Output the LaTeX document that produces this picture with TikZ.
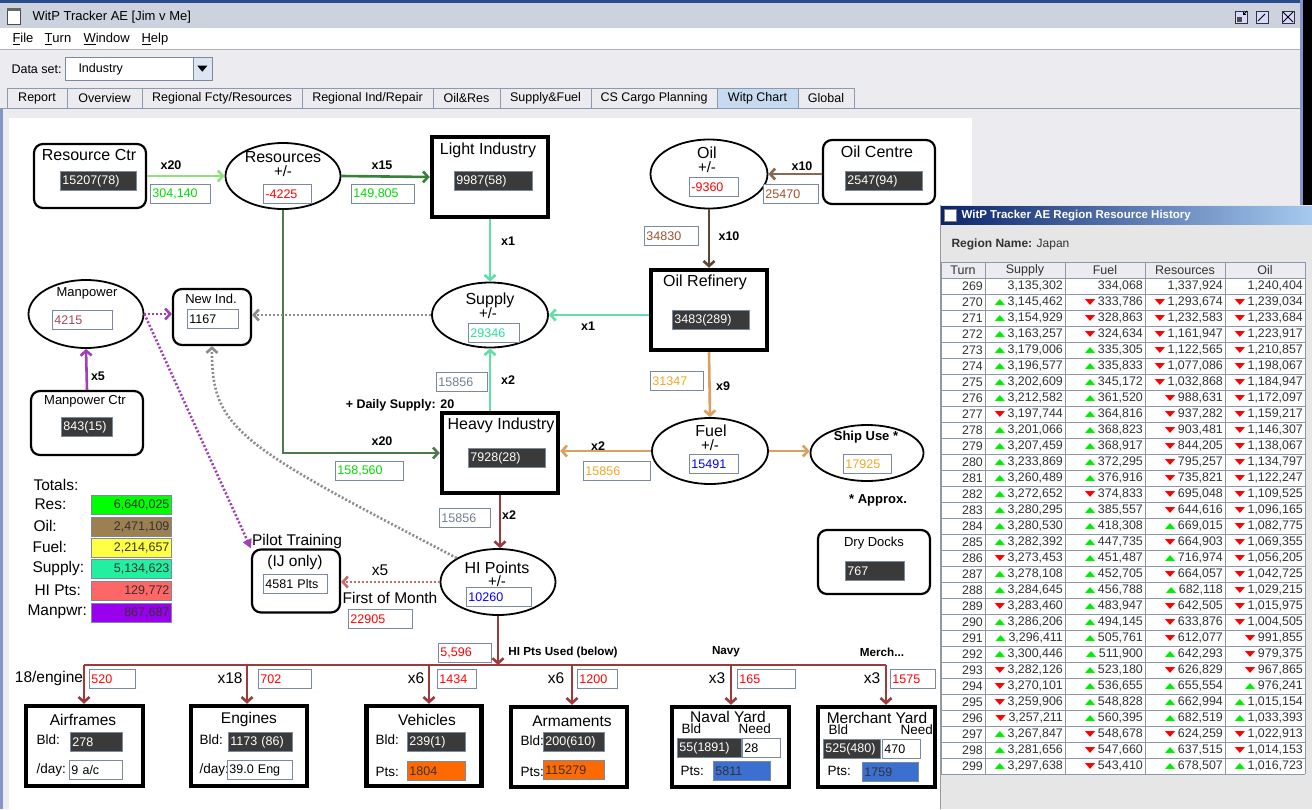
\documentclass[tikz,border=0pt]{standalone}
\usepackage{fontspec}
\setmainfont{Liberation Sans}
\newfontfamily\symfont{DejaVu Sans}
\usepackage{graphicx}
\usetikzlibrary{shapes.geometric,arrows.meta,calc}

\definecolor{chromebg}{HTML}{ECEBF0}
\definecolor{titlebg}{HTML}{CDD3DE}
\definecolor{topblue}{HTML}{2B4C8C}
\definecolor{leftblue}{HTML}{8595CC}
\definecolor{boxline}{HTML}{7A8AA0}
\definecolor{tabline}{HTML}{8A9AB0}
\definecolor{tabsel}{HTML}{C6DBF0}
\definecolor{btnbg}{HTML}{DCE6F2}
\definecolor{darkval}{HTML}{3A3A3A}
\definecolor{valgreen}{HTML}{00DD00}
\definecolor{valred}{HTML}{FF0000}
\definecolor{valbrown}{HTML}{A0522D}
\definecolor{valslate}{HTML}{708090}
\definecolor{valorange}{HTML}{F5A623}
\definecolor{valblue}{HTML}{0000FF}
\definecolor{valaqua}{HTML}{22E39A}
\definecolor{valmaroon}{HTML}{A0485A}
\definecolor{lightgreen}{HTML}{8FE37A}
\definecolor{resgreen}{HTML}{3A803A}
\definecolor{resline}{HTML}{4B7B4B}
\definecolor{supaqua}{HTML}{5EE0A8}
\definecolor{oilbrown}{HTML}{8A6A4E}
\definecolor{oildark}{HTML}{5E4636}
\definecolor{fueltan}{HTML}{D9A060}
\definecolor{hired}{HTML}{9B3B3B}
\definecolor{mppurple}{HTML}{A040B8}
\definecolor{dotgray}{HTML}{8C8C8C}
\definecolor{pilotred}{HTML}{C86A6A}
\definecolor{ptsorange}{HTML}{FF6A00}
\definecolor{ptsblue}{HTML}{3B6FD0}
\definecolor{totres}{HTML}{00FF00}
\definecolor{totoil}{HTML}{9C8052}
\definecolor{totfuel}{HTML}{FFFF44}
\definecolor{totsup}{HTML}{22F0A0}
\definecolor{tothi}{HTML}{FF6666}
\definecolor{totmp}{HTML}{9900EE}
\definecolor{histdark}{HTML}{0A246A}
\definecolor{histlight}{HTML}{A6CAF0}
\definecolor{histbg}{HTML}{E6E6E6}
\definecolor{gridline}{HTML}{8A98A8}
\definecolor{upgreen}{HTML}{00EE00}
\definecolor{dnred}{HTML}{FF0000}
\definecolor{celltext}{HTML}{333333}

\newcommand\valfont{\fontsize{12.5}{14}\selectfont}
\newcommand\hup[1]{{\color{upgreen}\raisebox{1.5pt}{\scalebox{1.1}[0.62]{\symfont\fontsize{12.5}{10}\selectfont ▲}}}\hspace{2.5pt}#1}
\newcommand\hdn[1]{{\color{dnred}\raisebox{1.5pt}{\scalebox{1.1}[0.62]{\symfont\fontsize{12.5}{10}\selectfont ▼}}}\hspace{2.5pt}#1}
\newcommand\hnv[1]{#1}

\begin{document}
\begin{tikzpicture}[x=1pt, y=-1pt,
	rbox/.style={draw, rounded corners=9pt, line width=2.2pt, fill=white},
	tbox/.style={draw, line width=4.5pt, fill=white},
	oval/.style={ellipse, draw, line width=1.8pt, fill=white},
	ttl/.style={font=\fontsize{16}{18}\selectfont},
	sttl/.style={font=\fontsize{13}{15}\selectfont},
	lbl/.style={font=\fontsize{15.5}{17}\selectfont},
	small/.style={font=\fontsize{13.5}{15}\selectfont, anchor=west},
	pm/.style={font=\fontsize{15}{16}\selectfont},
	mult/.style={font=\bfseries\fontsize{12.5}{14}\selectfont},
	note/.style={font=\bfseries\fontsize{11.7}{13}\selectfont},
	vb/.style={draw=boxline, line width=0.9pt, fill=white, anchor=north west, inner xsep=2pt, inner ysep=0pt, minimum height=19pt, text width=#1pt-5pt, align=left, font=\valfont},
	db/.style={vb=#1, fill=darkval, text=white},
	totbox/.style={draw=boxline, line width=0.9pt, anchor=north west, inner xsep=2pt, inner ysep=0pt, minimum height=19pt, text width=76pt, align=right, font=\valfont, text=celltext},
	flow/.style={line width=2.6pt, -{Straight Barb[length=5pt,width=11pt]}},
	dotflow/.style={line width=2.6pt, dash pattern=on 2pt off 2pt, -{Straight Barb[length=5pt,width=11pt]}},
	tab/.style={draw=tabline, fill=chromebg, minimum height=20pt, inner sep=0pt, font=\fontsize{12.5}{14}\selectfont},
	menu/.style={anchor=west, font=\fontsize{13}{15}\selectfont},
	cell/.style={anchor=east, inner sep=0pt, font=\fontsize{12.4}{14}\selectfont, text=celltext},
	head/.style={inner sep=0pt, font=\fontsize{12.5}{14}\selectfont, text=celltext},
	winbtn/.style={draw=black!80, fill=white!85!blue, line width=1pt, minimum width=12, minimum height=12, inner sep=0pt},
]

% canvas %{{{2

	\useasboundingbox (0,0) rectangle (1312,809);
	\fill[chromebg] (0,0) rectangle (1312,809);

% main window chrome %{{{2

	\fill[topblue] (0,0) rectangle (1312,3);
	\fill[titlebg] (0,3) rectangle (1312,28);
	\fill[white] (0,28) rectangle (1312,49);
	\draw[gray!60] (0,49.5) -- (1312,49.5);
	\node[draw=black!70, fill=white, minimum width=13, minimum height=16, inner sep=0pt] (winicon) at (14,16) {};
	\fill[black!60] (winicon.north west) rectangle ($(winicon.north east)+(0,3)$);
	\node[anchor=west, font=\fontsize{13}{15}\selectfont] (wintitle) at (29,17) {WitP Tracker AE [Jim v Me]};
	\foreach \bx/\bn in {1241/bmin, 1262/bmax, 1288/bclose} {
		\node[winbtn] (\bn) at (\bx,17) {};
	}
	\fill[black!70] ($(bmin.center)+(-4,0)$) rectangle ($(bmin.center)+(1,5)$);
	\draw[line width=1pt, -{Straight Barb[length=2pt,width=4pt]}] ($(bmin.center)+(6,-6)$) -- ($(bmin.center)+(2,-2)$);
	\draw[line width=1pt] ($(bmax.center)+(-4,4)$) -- ($(bmax.center)+(3,-3)$);
	\draw[line width=1pt] ($(bclose.center)+(-5,-5)$) -- ($(bclose.center)+(5,5)$);
	\draw[line width=1pt] ($(bclose.center)+(-5,5)$) -- ($(bclose.center)+(5,-5)$);
	\fill[black] (1303,0) rectangle (1312,205);
	\fill[leftblue] (1300,0) rectangle (1303,205);

	\node[menu] (mfile) at (9,39) {\underline{F}ile};
	\node[menu] (mturn) at (41,39) {\underline{T}urn};
	\node[menu] (mwin) at (80,39) {\underline{W}indow};
	\node[menu] (mhelp) at (138,39) {\underline{H}elp};

	\node[anchor=west, font=\fontsize{12.5}{14}\selectfont] (dslabel) at (8,69) {Data set:};
	\node[draw=boxline, line width=1pt, fill=white, anchor=north west, minimum width=146, minimum height=23, text width=120pt, align=left, inner xsep=2pt, font=\fontsize{12.5}{14}\selectfont] (dsbox) at (65,57) {Industry};
	\node[draw=boxline, fill=btnbg, anchor=north east, minimum width=19, minimum height=23, inner sep=0pt] (dsbtn) at (dsbox.north east) {};
	\fill ($(dsbtn.center)+(-5,-3)$) -- ($(dsbtn.center)+(5,-3)$) -- ($(dsbtn.center)+(0,3)$) -- cycle;

	\foreach \a/\b/\txt [count=\i] in {7/67/Report, 67/142/Overview, 142/302/{Regional Fcty/Resources}, 302/433/{Regional Ind/Repair}, 433/500/{Oil\&Res}, 500/591/{Supply\&Fuel}, 591/717/{CS Cargo Planning}, 798/854/Global} {
		\node[tab, minimum width={\b-\a}] (tab\i) at ({(\a+\b)/2},98) {\txt};
	}
	\node[tab, fill=tabsel, minimum width=81] (tabsel) at (757.5,98) {Witp Chart};
	\draw[tabline] (0,108.5) -- (1300,108.5);

% panels %{{{2

	\fill[leftblue] (0,109) rectangle (3,809);
	\fill[white] (9,118) rectangle (972,809);

% resource chain %{{{2

	\node[rbox, minimum width=112, minimum height=64] (resctr) at (90,176) {};
	\node[ttl] (resctr-t) at (89,155) {Resource Ctr};
	\node[db=77] (resctr-v) at (60,171) {15207(78)};

	\node[oval, minimum width=115, minimum height=66] (res) at (283,176) {};
	\node[ttl] (res-t) at (283,157) {Resources};
	\node[pm] (res-pm) at (283,171) {+/-};
	\node[vb=49, text=valred] (res-v) at (263,184) {-4225};

	\node[mult] (x-rc) at (171,165) {x20};
	\node[vb=61, text=valgreen] (rc-v) at (150,184) {304,140};
	\node[mult] (x-rl) at (382,165) {x15};
	\node[vb=64, text=valgreen] (rl-v) at (351,184) {149,805};

	\node[tbox, minimum width=116, minimum height=80] (li) at (490,177) {};
	\node[ttl] (li-t) at (488,150) {Light Industry};
	\node[db=79] (li-v) at (454,171) {9987(58)};
	\node[mult] (x-ls) at (508,241) {x1};

% oil chain %{{{2

	\node[oval, minimum width=117, minimum height=69] (oil) at (709,174) {};
	\node[ttl] (oil-t) at (707,153) {Oil};
	\node[pm] (oil-pm) at (707,167) {+/-};
	\node[vb=50, text=valred] (oil-v) at (689,177) {-9360};

	\node[rbox, minimum width=112, minimum height=64] (oilc) at (879,172) {};
	\node[ttl] (oilc-t) at (877,152) {Oil Centre};
	\node[db=78] (oilc-v) at (845,171) {2547(94)};
	\node[mult] (x-co) at (802,166) {x10};
	\node[vb=56, text=valbrown] (co-v) at (763,184) {25470};

	\node[tbox, minimum width=116, minimum height=80] (ref) at (709,310) {};
	\node[ttl] (ref-t) at (705,282) {Oil Refinery};
	\node[db=78] (ref-v) at (672,310) {3483(289)};
	\node[mult] (x-or) at (729,236) {x10};
	\node[vb=55, text=valbrown] (or-v) at (644,226) {34830};

% supply %{{{2

	\node[oval, minimum width=116, minimum height=65] (sup) at (490,315) {};
	\node[ttl] (sup-t) at (490,300) {Supply};
	\node[pm] (sup-pm) at (488,313) {+/-};
	\node[vb=52, text=valaqua] (sup-v) at (468,323) {29346};
	\node[mult] (x-rs) at (588,326) {x1};

% heavy industry %{{{2

	\node[tbox, minimum width=116, minimum height=80] (hi) at (500,453) {};
	\node[ttl] (hi-t) at (501,425) {Heavy Industry};
	\node[db=78] (hi-v) at (468,448) {7928(28)};
	\node[mult] (x-hs) at (508,380) {x2};
	\node[vb=52, text=valslate] (hs-v) at (436,372) {15856};
	\node[mult] (daily) at (400,405) {+ Daily Supply: 20};
	\node[mult] (x-rh) at (382,441) {x20};
	\node[vb=69, text=valgreen] (rh-v) at (335,461) {158,560};

% fuel %{{{2

	\node[oval, minimum width=116, minimum height=66] (fuel) at (710,451) {};
	\node[ttl] (fuel-t) at (711,431) {Fuel};
	\node[pm] (fuel-pm) at (710,445) {+/-};
	\node[vb=50, text=valblue] (fuel-v) at (689,454) {15491};
	\node[mult] (x-rf) at (723,386) {x9};
	\node[vb=54, text=valorange] (rf-v) at (650,371) {31347};
	\node[mult] (x-fh) at (598,446) {x2};
	\node[vb=68, text=valorange] (fh-v) at (583,461) {15856};

	\node[oval, minimum width=113, minimum height=56] (ship) at (867,453) {};
	\node[font=\bfseries\fontsize{13}{15}\selectfont] (ship-t) at (866,437) {Ship Use *};
	\node[vb=49, text=valorange] (ship-v) at (843,454) {17925};
	\node[font=\bfseries\fontsize{13}{15}\selectfont] (approx) at (878,500) {* Approx.};

% manpower %{{{2

	\node[rbox, minimum width=78, minimum height=56] (nind) at (212,317) {};
	\node[sttl] (nind-t) at (211,299) {New Ind.};
	\node[vb=52] (nind-v) at (187,309) {1167};

	\node[oval, minimum width=115, minimum height=68] (mp) at (86,314) {};
	\node[sttl] (mp-t) at (87,293) {Manpower};
	\node[vb=61, text=valmaroon] (mp-v) at (52,310) {4215};

	\node[rbox, minimum width=112, minimum height=64] (mpc) at (87,423) {};
	\node[sttl] (mpc-t) at (85,401) {Manpower Ctr};
	\node[db=52] (mpc-v) at (61,417) {843(15)};
	\node[mult] (x-mp) at (98,376) {x5};

% hi points %{{{2

	\node[oval, minimum width=115, minimum height=66] (hip) at (498,582) {};
	\node[ttl] (hip-t) at (497,568) {HI Points};
	\node[pm] (hip-pm) at (497,581) {+/-};
	\node[vb=66, text=valblue] (hip-v) at (466,587) {10260};
	\node[mult] (x-hh) at (509,515) {x2};
	\node[vb=52, text=valslate] (hh-v) at (439,508) {15856};

	\node[rbox, minimum width=88, minimum height=63] (pilot) at (296,581) {};
	\node[lbl] (pilot-t) at (297,541) {Pilot Training};
	\node[lbl] (pilot-s) at (295,562) {(IJ only)};
	\node[vb=65] (pilot-v) at (263,574) {4581 Plts};
	\node[lbl] (x-pil) at (380,570) {x5};
	\node[lbl] (fom) at (390,598) {First of Month};
	\node[vb=65, text=valred] (fom-v) at (348,609) {22905};

	\node[rbox, minimum width=112, minimum height=64] (dry) at (874,562) {};
	\node[sttl] (dry-t) at (874,543) {Dry Docks};
	\node[db=60] (dry-v) at (845,561) {767};

% totals %{{{2

	\node[anchor=west, font=\fontsize{15.5}{17}\selectfont] (tot) at (30,485) {Totals:};
	\foreach \lab/\lx/\ty/\col/\num [count=\k] in {Res:/31/495/totres/{6,640,025}, Oil:/30/517/totoil/{2,471,109}, Fuel:/29/538/totfuel/{2,214,657}, Supply:/29/559/totsup/{5,134,623}, HI Pts:/31/581/tothi/{129,772}, Manpwr:/24/603/totmp/{867,687}} {
		\node[anchor=west, font=\fontsize{15.5}{17}\selectfont] (totl\k) at (\lx,\ty+9) {\lab};
		\node[totbox, fill=\col] (totv\k) at (91,\ty) {\num};
	}

% output boxes %{{{2

	\node[tbox, minimum width=117, minimum height=80] (air) at (84.5,746) {};
	\node[lbl] (air-t) at (83,720) {Airframes};
	\node[small] (air-b) at (33,740) {Bld:};
	\node[db=53] (air-v) at (70,732) {278};
	\node[small] (air-d) at (33,770) {/day:};
	\node[vb=54] (air-r) at (69,760) {9 a/c};

	\node[tbox, minimum width=116, minimum height=80] (eng) at (249,746) {};
	\node[lbl] (eng-t) at (249,719) {Engines};
	\node[small] (eng-b) at (196,740) {Bld:};
	\node[db=65] (eng-v) at (228,732) {1173 (86)};
	\node[small] (eng-d) at (196,770) {/day:};
	\node[vb=66] (eng-r) at (227,760) {39.0 Eng};

	\node[tbox, minimum width=115, minimum height=80] (veh) at (424,746) {};
	\node[lbl] (veh-t) at (427,720) {Vehicles};
	\node[small] (veh-b) at (372,740) {Bld:};
	\node[db=59] (veh-v) at (407,732) {239(1)};
	\node[small] (veh-p) at (372,772) {Pts:};
	\node[vb=59, fill=ptsorange, text=celltext] (veh-s) at (407,761) {1804};

	\node[tbox, minimum width=116, minimum height=80] (arm) at (569,747) {};
	\node[lbl] (arm-t) at (572,721) {Armaments};
	\node[small] (arm-b) at (517,741) {Bld:};
	\node[db=62] (arm-v) at (543,732) {200(610)};
	\node[small] (arm-p) at (517,772) {Pts:};
	\node[vb=62, fill=ptsorange, text=celltext] (arm-s) at (543,760) {115279};

	\node[tbox, minimum width=117, minimum height=80] (nav) at (730.5,747) {};
	\node[lbl] (nav-t) at (728,717) {Naval Yard};
	\node[small] (nav-b) at (678,729) {Bld};
	\node[small] (nav-n) at (735,729) {Need};
	\node[db=65] (nav-v) at (677,738) {55(1891)};
	\node[vb=39] (nav-r) at (742,738) {28};
	\node[small] (nav-p) at (677,771) {Pts:};
	\node[vb=58, fill=ptsblue, text=celltext] (nav-s) at (713,761) {5811};

	\node[tbox, minimum width=117, minimum height=80] (mer) at (876.5,747) {};
	\node[lbl] (mer-t) at (877,718) {Merchant Yard};
	\node[small] (mer-b) at (825,730) {Bld};
	\node[small] (mer-n) at (897,730) {Need};
	\node[db=58] (mer-v) at (823,739) {525(480)};
	\node[vb=39] (mer-r) at (882,739) {470};
	\node[small] (mer-p) at (824,771) {Pts:};
	\node[vb=57, fill=ptsblue, text=celltext] (mer-s) at (862,762) {1759};

% hi points used %{{{2

	\node[vb=54, text=valred] (used-v) at (438,643) {5,596};
	\node[note] (used) at (563,652) {HI Pts Used (below)};
	\node[note] (navy) at (726,652) {Navy};
	\node[note] (merch) at (882,652) {Merch...};
	\node[lbl] (x-air) at (49,678) {18/engine};
	\node[lbl] (x-eng) at (230,678) {x18};
	\node[lbl] (x-veh) at (416,678) {x6};
	\node[lbl] (x-arm) at (556,678) {x6};
	\node[lbl] (x-nav) at (717,678) {x3};
	\node[lbl] (x-mer) at (872,678) {x3};
	\node[vb=47, text=valred] (air-u) at (89,669) {520};
	\node[vb=54, text=valred] (eng-u) at (258,669) {702};
	\node[vb=40, text=valred] (veh-u) at (437,669) {1434};
	\node[vb=41, text=valred] (arm-u) at (577,669) {1200};
	\node[vb=59, text=valred] (nav-u) at (737,669) {165};
	\node[vb=46, text=valred] (mer-u) at (890,669) {1575};

% connectors %{{{2

	\draw[flow, draw=lightgreen] (resctr.east) -- (res.west);
	\draw[flow, draw=resgreen] (res.east) -- (li.west);
	\draw[flow, draw=supaqua] (li.south) -- (sup.north);
	\draw[flow, draw=oilbrown] (oilc.west |- oil.east) -- (oil.east);
	\draw[flow, draw=oildark] (oil.south) -- (ref.north);
	\draw[flow, draw=supaqua] (ref.west |- sup.east) -- (sup.east);
	\draw[flow, draw=fueltan] (ref.south) -- (fuel.north);
	\draw[flow, draw=fueltan] (fuel.west) -- (fuel.west -| hi.east);
	\draw[flow, draw=fueltan] (fuel.east) -- (fuel.east -| ship.west);
	\draw[flow, draw=supaqua] (hi.north -| sup.south) -- (sup.south);
	\draw[flow, draw=resline] (res.south) |- (hi.west);
	\draw[flow, draw=hired] (hi.south) -- (hi.south |- hip.north);
	\draw[flow, draw=mppurple] (mpc.north) -- (mp.south);
	\draw[dotflow, draw=mppurple] (mp.east) -- (mp.east -| nind.west);
	\draw[dotflow, draw=dotgray] (sup.west) -- (sup.west -| nind.east);
	\draw[dotflow, draw=dotgray] (hip.north west) .. controls (240,445) and (211,430) .. (nind.south);
	\draw[line width=2.6pt, dash pattern=on 2pt off 2pt, draw=mppurple, -{Triangle[length=9pt,width=9pt]}] (mp.east) -- (pilot.north west);
	\draw[dotflow, draw=pilotred] (hip.west) -- (hip.west -| pilot.east);

	\coordinate (busL) at (84,665);
	\coordinate (busR) at (886,665);
	\draw[line width=2.6pt, hired] (busL) -- (busR);
	\draw[flow, draw=hired] (hip.south) -- (hip.south |- busL);
	\foreach \dx/\bn in {84/air, 247/eng, 429/veh, 572/arm, 731/nav, 886/mer} {
		\coordinate (drop-\bn) at (\dx,665);
		\draw[flow, draw=hired] (drop-\bn) -- (drop-\bn |- \bn.north);
	}

% history window %{{{2

	\fill[histbg] (940,205) rectangle (1312,809);
	\draw[gray!80, line width=1pt] (940.5,205) -- (940.5,809);
	\shade[left color=histdark, right color=histlight] (941,206) rectangle (1312,224);
	\node[draw=gray, fill=white, minimum width=12, minimum height=12, inner sep=0pt] (hicon) at (950,215) {};
	\node[anchor=west, text=white, font=\bfseries\fontsize{11.5}{13}\selectfont] (htitle) at (958,216) {WitP Tracker AE Region Resource History};
	\node[anchor=west, font=\fontsize{12}{14}\selectfont, text=celltext] (hregion) at (948,244) {\textbf{Region Name:} Japan};

	\fill[chromebg] (941,262) rectangle (1305,278);
	\fill[white] (941,278) rectangle (1305,774);
	\foreach \yy in {262,278,...,774} { \draw[gridline] (941,\yy) -- (1305,\yy); }
	\foreach \xx in {941,985,1065,1145,1225,1305} { \draw[gridline] (\xx,262) -- (\xx,774); }

	\node[head] (hh-turn) at (963,270) {Turn};
	\node[head] (hh-sup) at (1025,270) {Supply};
	\node[head] (hh-fuel) at (1105,270) {Fuel};
	\node[head] (hh-res) at (1185,270) {Resources};
	\node[head] (hh-oil) at (1265,270) {Oil};

	\foreach \tn/\sv/\fv/\rv/\ov [count=\i from 0] in {
		269/{\hnv{3,135,302}}/{\hnv{334,068}}/{\hnv{1,337,924}}/{\hnv{1,240,404}},
		270/{\hup{3,145,462}}/{\hdn{333,786}}/{\hdn{1,293,674}}/{\hdn{1,239,034}},
		271/{\hup{3,154,929}}/{\hdn{328,863}}/{\hdn{1,232,583}}/{\hdn{1,233,684}},
		272/{\hup{3,163,257}}/{\hdn{324,634}}/{\hdn{1,161,947}}/{\hdn{1,223,917}},
		273/{\hup{3,179,006}}/{\hup{335,305}}/{\hdn{1,122,565}}/{\hdn{1,210,857}},
		274/{\hup{3,196,577}}/{\hup{335,833}}/{\hdn{1,077,086}}/{\hdn{1,198,067}},
		275/{\hup{3,202,609}}/{\hup{345,172}}/{\hdn{1,032,868}}/{\hdn{1,184,947}},
		276/{\hup{3,212,582}}/{\hup{361,520}}/{\hdn{988,631}}/{\hdn{1,172,097}},
		277/{\hdn{3,197,744}}/{\hup{364,816}}/{\hdn{937,282}}/{\hdn{1,159,217}},
		278/{\hup{3,201,066}}/{\hup{368,823}}/{\hdn{903,481}}/{\hdn{1,146,307}},
		279/{\hup{3,207,459}}/{\hup{368,917}}/{\hdn{844,205}}/{\hdn{1,138,067}},
		280/{\hup{3,233,869}}/{\hup{372,295}}/{\hdn{795,257}}/{\hdn{1,134,797}},
		281/{\hup{3,260,489}}/{\hup{376,916}}/{\hdn{735,821}}/{\hdn{1,122,247}},
		282/{\hup{3,272,652}}/{\hdn{374,833}}/{\hdn{695,048}}/{\hdn{1,109,525}},
		283/{\hup{3,280,295}}/{\hup{385,557}}/{\hdn{644,616}}/{\hdn{1,096,165}},
		284/{\hup{3,280,530}}/{\hup{418,308}}/{\hup{669,015}}/{\hdn{1,082,775}},
		285/{\hup{3,282,392}}/{\hup{447,735}}/{\hdn{664,903}}/{\hdn{1,069,355}},
		286/{\hdn{3,273,453}}/{\hup{451,487}}/{\hup{716,974}}/{\hdn{1,056,205}},
		287/{\hup{3,278,108}}/{\hup{452,705}}/{\hdn{664,057}}/{\hdn{1,042,725}},
		288/{\hup{3,284,645}}/{\hup{456,788}}/{\hup{682,118}}/{\hdn{1,029,215}},
		289/{\hdn{3,283,460}}/{\hup{483,947}}/{\hdn{642,505}}/{\hdn{1,015,975}},
		290/{\hup{3,286,206}}/{\hup{494,145}}/{\hdn{633,876}}/{\hdn{1,004,505}},
		291/{\hup{3,296,411}}/{\hup{505,761}}/{\hdn{612,077}}/{\hdn{991,855}},
		292/{\hup{3,300,446}}/{\hup{511,900}}/{\hup{642,293}}/{\hdn{979,375}},
		293/{\hdn{3,282,126}}/{\hup{523,180}}/{\hdn{626,829}}/{\hdn{967,865}},
		294/{\hdn{3,270,101}}/{\hup{536,655}}/{\hup{655,554}}/{\hup{976,241}},
		295/{\hdn{3,259,906}}/{\hup{548,828}}/{\hup{662,994}}/{\hup{1,015,154}},
		296/{\hdn{3,257,211}}/{\hup{560,395}}/{\hup{682,519}}/{\hup{1,033,393}},
		297/{\hup{3,267,847}}/{\hdn{548,678}}/{\hdn{624,259}}/{\hdn{1,022,913}},
		298/{\hup{3,281,656}}/{\hdn{547,660}}/{\hup{637,515}}/{\hdn{1,014,153}},
		299/{\hup{3,297,638}}/{\hdn{543,410}}/{\hup{678,507}}/{\hup{1,016,723}}} {
		\node[cell] (ht-\tn) at (983,{286+16*\i}) {\tn};
		\node[cell] (hs-\tn) at (1063,{286+16*\i}) {\sv};
		\node[cell] (hf-\tn) at (1143,{286+16*\i}) {\fv};
		\node[cell] (hr-\tn) at (1223,{286+16*\i}) {\rv};
		\node[cell] (ho-\tn) at (1303,{286+16*\i}) {\ov};
	}

% closing %{{{2

\end{tikzpicture}
\end{document}
